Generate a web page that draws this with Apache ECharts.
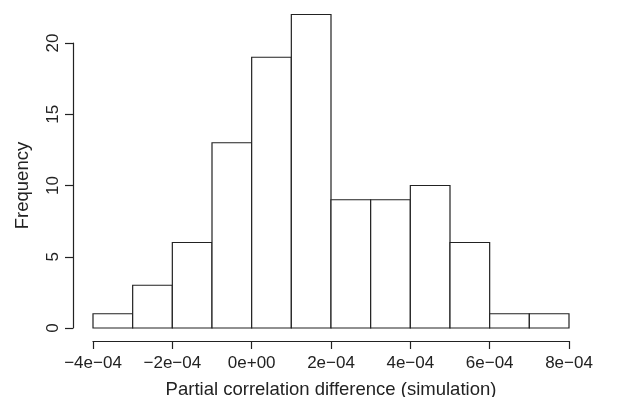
<!DOCTYPE html>
<html>
<head>
<meta charset="utf-8">
<script src="https://cdn.jsdelivr.net/npm/echarts@6/dist/echarts.min.js"></script>
<style>
  html, body { margin: 0; padding: 0; background: #fff; }
  #chart { width: 640px; height: 397px; }
</style>
</head>
<body>
<div id="chart"></div>
<script>
// histogram data
var binEdges = [-4e-4, -3e-4, -2e-4, -1e-4, 0, 1e-4, 2e-4, 3e-4, 4e-4, 5e-4, 6e-4, 7e-4, 8e-4];
var counts = [1, 3, 6, 13, 19, 22, 9, 9, 10, 6, 1, 1];
var xTickLabels = ['\u22124e\u221204', '\u22122e\u221204', '0e+00', '2e\u221204', '4e\u221204', '6e\u221204', '8e\u221204'];
var yTickLabels = ['0', '5', '10', '15', '20'];

var xMin = -4e-4, xMax = 8e-4, xStep = 2e-4;
var font = 'Liberation Sans, Arial, sans-serif';
var ink = '#222';

var bins = [];
for (var i = 0; i < counts.length; i++) {
  bins.push([binEdges[i], binEdges[i + 1], counts[i]]);
}

var chart = echarts.init(document.getElementById('chart'));
chart.setOption({
  animation: false,
  backgroundColor: '#fff',
  grid: [
    { left: 93, right: 71, top: 14.5, bottom: 69, outerBoundsMode: 'none', containLabel: false },
    { left: 93, right: 71, top: 43, bottom: 69, outerBoundsMode: 'none', containLabel: false }
  ],
  xAxis: [{
    type: 'value', gridIndex: 0,
    min: xMin, max: xMax, interval: xStep,
    offset: 13,
    name: 'Partial correlation difference (simulation)',
    nameLocation: 'middle', nameGap: 39,
    nameTextStyle: { fontFamily: font, fontSize: 18.5, color: ink },
    axisLine: { show: true, onZero: false, lineStyle: { color: ink, width: 1.2 } },
    axisTick: { show: true, length: 8, inside: false, lineStyle: { color: ink, width: 1.2 } },
    axisLabel: {
      margin: 14, fontFamily: font, fontSize: 17, color: ink,
      formatter: function (v) { return xTickLabels[Math.round((v - xMin) / xStep)]; }
    },
    splitLine: { show: false }
  }, {
    type: 'value', gridIndex: 1, min: xMin, max: xMax, show: false
  }],
  yAxis: [{
    type: 'value', gridIndex: 0, min: 0, max: 22, show: false
  }, {
    type: 'value', gridIndex: 1, min: 0, max: 20, interval: 5,
    offset: 20,
    name: 'Frequency',
    nameLocation: 'middle', nameGap: 41, nameRotate: 90,
    nameTextStyle: { fontFamily: font, fontSize: 18.5, color: ink },
    axisLine: { show: true, onZero: false, lineStyle: { color: ink, width: 1.2 } },
    axisTick: { show: true, length: 8, inside: false, lineStyle: { color: ink, width: 1.2 } },
    axisLabel: {
      margin: 11, rotate: 90, fontFamily: font, fontSize: 17, color: ink,
      formatter: function (v) { return yTickLabels[Math.round(v / 5)]; }
    },
    splitLine: { show: false }
  }],
  series: [{
    type: 'custom',
    xAxisIndex: 0, yAxisIndex: 0,
    data: bins,
    encode: { x: [0, 1], y: 2 },
    renderItem: function (params, api) {
      var p0 = api.coord([api.value(0), 0]);
      var p1 = api.coord([api.value(1), api.value(2)]);
      return {
        type: 'rect',
        shape: { x: p0[0], y: p1[1], width: p1[0] - p0[0], height: p0[1] - p1[1] },
        style: { fill: '#fff', stroke: ink, lineWidth: 1.2 }
      };
    }
  }]
});
</script>
</body>
</html>
